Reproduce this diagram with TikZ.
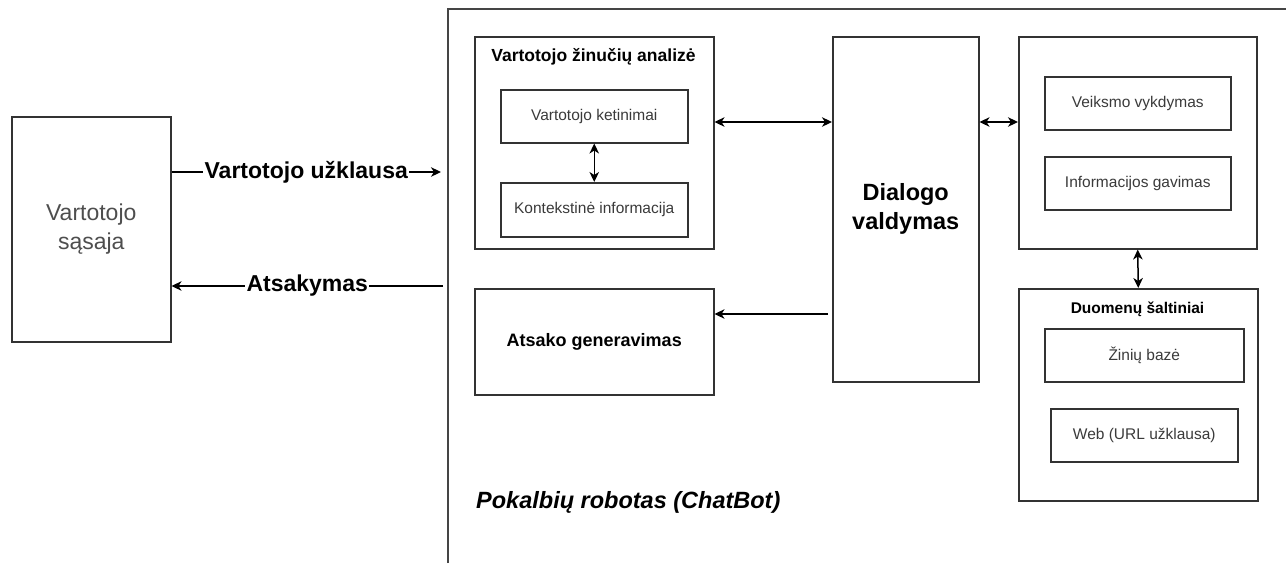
\documentclass[tikz,border=0pt]{standalone}
\usepackage{fontspec}
\setmainfont{Liberation Sans}
\usetikzlibrary{arrows.meta}
\definecolor{edge}{HTML}{333333}
\definecolor{txt}{HTML}{3A3A3A}
\definecolor{framecol}{HTML}{454545}
\begin{document}
\begin{tikzpicture}[x=1pt,y=-1pt,
  box/.style={draw=edge, line width=1.5pt, inner sep=0pt, anchor=north west,
              text=txt, align=center},
  plain/.style={font=\fontsize{15.5}{19}\selectfont},
  heading/.style={font=\bfseries\fontsize{17.5}{21}\selectfont, text=black, inner sep=0pt},
  conn/.style={draw=black, line width=1.5pt},
  tip/.tip={Stealth[length=10pt,width=9.5pt,inset=3pt]},
  arr/.style={conn, -tip},
  biarr/.style={conn, tip-tip},
  edgelabel/.style={fill=white, inner sep=1.5pt, text=black,
                    font=\bfseries\fontsize{23}{27}\selectfont}]
\useasboundingbox (0,0) rectangle (1286,563);

% chatbot container (only its left and top sides are in view)
\draw[framecol, line width=2pt] (448,563) -- (448,9) -- (1286,9);

% user interface
\node[box, minimum width=159pt, minimum height=225pt,
      font=\fontsize{23}{29}\selectfont, text=txt!90] (ui) at (11,116)
      {Vartotojo\\sąsaja};

% message analysis
\node[box, minimum width=239pt, minimum height=212pt] (ana) at (474,36) {};
\node[heading] (anatitle) at (593.5,57) {Vartotojo žinučių analizė};
\node[box, plain, minimum width=187pt, minimum height=53pt] (ket) at (500,89) {Vartotojo ketinimai};
\node[box, plain, minimum width=187pt, minimum height=54pt] (ctx) at (500,182) {Kontekstinė informacija};

% response generation
\node[box, minimum width=239pt, minimum height=106pt, text=black,
      font=\bfseries\fontsize{18}{22}\selectfont] (gen) at (474,288) {Atsako generavimas};

% dialogue management
\node[box, minimum width=146pt, minimum height=345pt, text=black,
      font=\bfseries\fontsize{23.5}{29}\selectfont] (dlg) at (832,36) {Dialogo\\valdymas};

% actions
\node[box, minimum width=238pt, minimum height=212pt] (act) at (1018,36) {};
\node[box, plain, minimum width=186pt, minimum height=53pt] (exe) at (1044,76) {Veiksmo vykdymas};
\node[box, plain, minimum width=186pt, minimum height=53pt] (inf) at (1044,156) {Informacijos gavimas};

% data sources
\node[box, minimum width=239pt, minimum height=212pt] (src) at (1018,288) {};
\node[heading, font=\bfseries\fontsize{15.5}{19}\selectfont] (srctitle) at (1137.5,309) {Duomenų šaltiniai};
\node[box, plain, minimum width=199pt, minimum height=53pt] (kb) at (1044,328) {Žinių bazė};
\node[box, plain, minimum width=187pt, minimum height=53pt] (web) at (1050,408) {Web (URL užklausa)};

% caption of the container
\node[anchor=west, inner sep=0pt, text=black,
      font=\bfseries\itshape\fontsize{23.5}{28}\selectfont] (botname) at (476,502)
      {Pokalbių robotas (ChatBot)};

% connectors
\coordinate (lvl) at (0,122);
\coordinate (reqend) at (441,172);
\coordinate (resstart) at (443,286);
\coordinate (dlgout) at (828,314);

\draw[arr] (ui.east |- reqend) -- (reqend)
  node[edgelabel, midway] {Vartotojo užklausa};
\draw[arr] (resstart) -- (ui.east |- resstart)
  node[edgelabel, midway] {Atsakymas};
\draw[biarr] (ana.east |- lvl) -- (dlg.west |- lvl);
\draw[biarr] (dlg.east |- lvl) -- (act.west |- lvl);
\draw[biarr] (ket.south) -- (ctx.north);
\draw[biarr] (act.south) -- (src.north);
\draw[arr] (dlgout) -- (gen.east |- dlgout);
\end{tikzpicture}
\end{document}
